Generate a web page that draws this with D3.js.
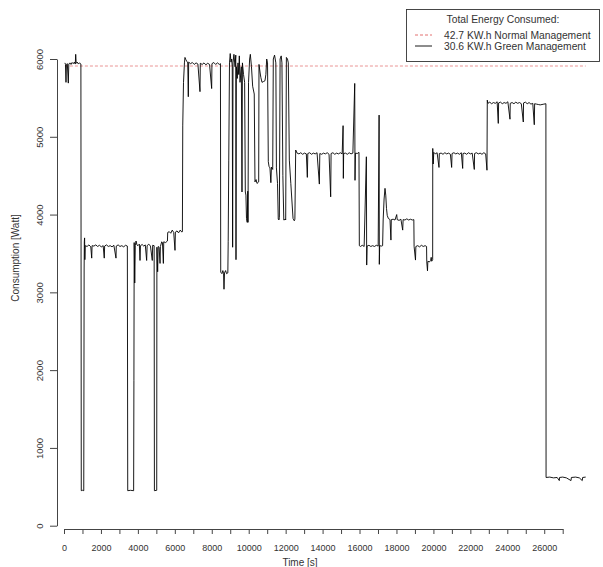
<!DOCTYPE html>
<html>
<head>
<meta charset="utf-8">
<script src="https://cdn.jsdelivr.net/npm/d3@7"></script>
<style>
  body { margin: 0; background: #fff; }
  svg { display: block; font-family: "Liberation Sans", Arial, sans-serif; }
</style>
</head>
<body>
<div id="chart"></div>
<script>
// Green management consumption, [time (s), watt]
var greenSeries = [
  [50,5950],[80,5930],[108,5700],[130,5930],[180,5940],[233,5690],[260,5935],[320,5950],[380,5930],[440,5955],
  [500,5940],[560,5960],[610,5935],[633,6060],[660,5945],[720,5960],[780,5935],[840,5950],[915,5935],
  [935,450],[1000,455],[1070,450],[1090,3300],[1100,3650],[1115,3700],[1130,3420],[1150,3600],
  [1250,3590],[1350,3610],[1450,3585],[1500,3440],[1520,3600],[1620,3595],[1720,3610],[1820,3590],[1920,3605],
  [2020,3585],[2120,3600],[2180,3440],[2200,3595],[2300,3610],[2400,3590],[2500,3600],[2600,3585],[2700,3605],
  [2815,3440],[2830,3595],[2930,3610],[3030,3590],[3130,3600],[3230,3585],[3330,3605],[3430,3595],
  [3450,450],[3600,455],[3770,450],[3785,1870],[3800,3640],[3830,3120],[3860,3600],[3900,3660],[3950,3610],
  [4000,3600],[4080,3620],[4115,3410],[4140,3600],[4230,3615],[4320,3595],[4400,3610],[4475,3410],[4500,3600],
  [4590,3620],[4680,3595],[4780,3410],[4800,3605],[4880,3600],
  [4895,450],[5020,455],[5030,3580],[5070,3265],[5100,3590],[5150,3580],[5200,3372],[5220,3590],[5290,3650],
  [5330,3640],[5380,3372],[5400,3650],[5500,3640],[5600,3660],[5615,3770],
  [5700,3780],[5780,3760],[5860,3800],[5940,3770],[6010,3540],[6030,3775],[6120,3790],[6200,3765],[6290,3800],[6380,3775],
  [6410,3780],[6430,5150],[6470,5700],[6520,5950],[6550,6020],[6600,5990],[6650,5970],
  [6700,5950],[6730,5515],[6750,5960],[6850,5940],[6950,5955],[7050,5930],[7150,5950],[7250,5935],[7363,5580],
  [7380,5945],[7480,5930],[7580,5950],[7680,5925],[7780,5945],[7880,5930],[7995,5620],[8010,5940],[8110,5955],
  [8210,5930],[8310,5950],[8410,5930],[8470,5940],
  [8485,3260],[8550,3240],[8600,3280],[8640,3240],[8662,3040],[8690,3250],[8750,3280],[8800,3240],[8870,3250],
  [8890,3650],[8920,4700],[8960,5950],[9000,6070],[9040,5960],[9080,6000],[9110,5900],[9130,3580],[9150,5950],
  [9200,6060],[9260,5900],[9300,6050],[9312,3420],[9330,5900],[9380,5750],[9420,5950],[9460,5800],[9492,6040],
  [9530,5700],[9600,5900],[9637,4290],[9660,5950],[9720,5800],[9780,5700],[9817,4290],[9850,4250],[9880,3950],
  [9920,3900],[9950,4300],[9962,3900],[9990,5700],[10050,6000],[10088,6060],[10150,5900],[10214,5650],[10300,5550],
  [10340,4420],[10400,4450],[10450,4400],[10540,4420],[10557,5930],[10620,5820],[10660,5760],[10720,5700],
  [10800,5710],[10880,5720],[10930,5800],[10974,6000],[11020,5950],[11061,4680],[11100,4620],[11150,4600],
  [11200,4410],[11230,4610],[11300,4580],[11332,6000],[11400,6050],[11470,5950],[11500,4600],[11560,4400],
  [11600,3940],[11640,3930],[11660,3960],[11700,6000],[11760,6040],[11800,5950],[11850,4500],[11900,3930],
  [11990,3940],[12003,3930],[12040,6020],[12100,6000],[12144,5950],[12200,4700],[12280,4400],[12400,3950],
  [12468,3920],[12500,3940],[12544,4830],
  [12620,4790],[12720,4780],[12820,4795],[12920,4775],[13020,4790],[13120,4780],[13174,4478],[13200,4785],
  [13300,4795],[13400,4775],[13500,4790],[13600,4780],[13700,4795],[13825,4392],[13850,4785],[13950,4775],
  [14050,4790],[14150,4780],[14250,4795],[14350,4775],[14438,4228],[14460,4785],[14560,4795],[14660,4775],
  [14760,4790],[14860,4780],[14960,4795],[15060,4780],[15110,5143],[15124,4465],[15140,4785],[15240,4790],
  [15340,4775],[15440,4795],[15540,4780],[15640,4790],[15740,5686],[15755,4440],[15780,4790],[15880,4785],[15970,4800],
  [15990,3600],[16050,3590],[16150,3605],[16250,3590],[16370,4743],[16388,3351],[16410,3595],[16510,3605],
  [16610,3590],[16710,3600],[16810,3590],[16910,3605],[17010,3595],[17060,5279],[17072,3360],[17090,3600],
  [17190,3595],[17250,3600],
  [17280,3930],[17330,4200],[17380,4337],[17420,4250],[17460,4080],[17500,3990],[17560,3950],[17620,3940],
  [17650,3935],[17700,3672],[17720,3935],
  [17820,3940],[17920,3930],[18013,4000],[18040,3935],[18140,3925],[18240,3940],[18337,3800],[18360,3935],
  [18460,3930],[18560,3945],[18660,3930],[18760,3940],[18860,3930],[18940,3935],
  [18955,3590],[19030,3415],[19050,3590],[19150,3600],[19250,3585],[19350,3605],[19450,3590],[19550,3600],[19630,3590],
  [19640,3393],[19680,3277],[19700,3400],[19780,3390],[19850,3410],[19880,3450],[19907,3400],[19960,3420],
  [19965,4850],[19990,4650],[20020,4800],
  [20100,4780],[20200,4795],[20302,4606],[20320,4785],[20420,4790],[20520,4775],[20620,4795],[20720,4780],
  [20820,4790],[20920,4775],[20988,4606],[21010,4785],[21110,4795],[21210,4780],[21310,4790],[21410,4775],
  [21510,4795],[21585,4593],[21600,4785],[21700,4790],[21800,4775],[21900,4795],[22000,4780],[22100,4790],
  [22214,4580],[22230,4785],[22330,4795],[22430,4780],[22530,4790],[22630,4775],[22730,4795],[22830,4780],[22900,4570],
  [22917,5471],[22950,5430],
  [23050,5445],[23150,5425],[23250,5440],[23350,5430],[23450,5450],[23513,5172],[23530,5435],[23630,5445],
  [23730,5425],[23830,5440],[23930,5430],[24030,5450],[24146,5226],[24160,5430],[24260,5440],[24360,5425],
  [24460,5445],[24560,5430],[24660,5440],[24760,5425],[24867,5190],[24880,5435],[24980,5445],[25080,5425],
  [25180,5440],[25280,5420],[25380,5430],[25462,5155],[25480,5425],[25580,5420],[25680,5415],[25780,5410],
  [25880,5415],[25980,5420],[26090,5425],
  [26100,620],[26300,625],[26500,615],[26700,620],[26816,580],[26830,620],[27000,625],[27200,615],[27450,580],
  [27470,620],[27700,625],[27900,615],[28060,580],[28080,620],[28245,625]
];

// Normal management: constant level over the same time span
var normalLevel = 5910;
var normalSpan = [50, 28245];

var xTicks = [0,1000,2000,3000,4000,5000,6000,7000,8000,9000,10000,11000,12000,13000,
              14000,15000,16000,17000,18000,19000,20000,21000,22000,23000,24000,25000,26000,27000];
var xTickLabels = [0,2000,4000,6000,8000,10000,12000,14000,16000,18000,20000,22000,24000,26000];
var yTicks = [0,1000,2000,3000,4000,5000,6000];

var legendTitle = "Total Energy Consumed:";
var legendLabels = ["42.7 KW.h Normal Management", "30.6 KW.h Green Management"];

var w = 603, h = 567;

var svg = d3.select("#chart").append("svg")
    .attr("width", w)
    .attr("height", h);

var x = d3.scaleLinear().domain([0, 27000]).range([64, 562.7]);
var y = d3.scaleLinear().domain([0, 6000]).range([525.7, 59]);

// axes
var xAxis = svg.append("g")
    .attr("transform", "translate(0,529)")
    .call(d3.axisBottom(x)
        .tickValues(xTicks)
        .tickSize(5)
        .tickSizeOuter(0)
        .tickPadding(11)
        .tickFormat(function(d) { return xTickLabels.indexOf(d) >= 0 ? d : ""; }));
xAxis.selectAll("path, line").attr("stroke", "#444");
xAxis.selectAll("text").attr("font-size", "9px").attr("fill", "#333")
    .attr("font-family", "Liberation Sans, Arial, sans-serif");

var yAxis = svg.append("g")
    .attr("transform", "translate(57,0)")
    .call(d3.axisLeft(y)
        .tickValues(yTicks)
        .tickSize(7)
        .tickSizeOuter(0)
        .tickFormat(d3.format("d")));
yAxis.selectAll("path, line").attr("stroke", "#444");
yAxis.selectAll("text")
    .attr("x", 0).attr("y", 0).attr("dy", "0.35em")
    .attr("text-anchor", "middle")
    .attr("transform", "translate(-17,0) rotate(-90)")
    .attr("font-size", "9.5px").attr("fill", "#333")
    .attr("font-family", "Liberation Sans, Arial, sans-serif");

// axis titles
svg.append("text")
    .attr("x", 300).attr("y", 565.5)
    .attr("text-anchor", "middle")
    .attr("font-size", "10px").attr("fill", "#333")
    .text("Time [s]");

svg.append("text")
    .attr("transform", "translate(15,258) rotate(-90)")
    .attr("dy", "0.35em")
    .attr("text-anchor", "middle")
    .attr("font-size", "10px").attr("fill", "#333")
    .text("Consumption [Watt]");

// normal management reference line
svg.append("line")
    .attr("x1", x(normalSpan[0])).attr("x2", x(normalSpan[1]))
    .attr("y1", y(normalLevel)).attr("y2", y(normalLevel))
    .attr("stroke", "#e06060")
    .attr("stroke-opacity", 0.75)
    .attr("stroke-width", 0.9)
    .attr("stroke-dasharray", "3,2");

// green management series
var line = d3.line()
    .x(function(d) { return x(d[0]); })
    .y(function(d) { return y(d[1]); });

svg.append("path")
    .datum(greenSeries)
    .attr("d", line)
    .attr("fill", "none")
    .attr("stroke", "#000")
    .attr("stroke-width", 0.9);

// legend
var lg = svg.append("g");
lg.append("rect")
    .attr("x", 406.5).attr("y", 9.5)
    .attr("width", 193).attr("height", 52)
    .attr("fill", "#fff")
    .attr("stroke", "#333")
    .attr("stroke-width", 0.9);
lg.append("text")
    .attr("x", 503).attr("y", 22.5)
    .attr("text-anchor", "middle")
    .attr("font-size", "10.3px").attr("fill", "#333")
    .text(legendTitle);
lg.append("line")
    .attr("x1", 415).attr("x2", 432).attr("y1", 35).attr("y2", 35)
    .attr("stroke", "#e06060").attr("stroke-width", 0.9)
    .attr("stroke-dasharray", "3,2");
lg.append("line")
    .attr("x1", 415).attr("x2", 432).attr("y1", 46).attr("y2", 46)
    .attr("stroke", "#000").attr("stroke-width", 0.9);
lg.selectAll("text.item")
    .data(legendLabels)
    .enter()
    .append("text")
    .attr("class", "item")
    .attr("x", 444)
    .attr("y", function(d, i) { return 35 + i * 11; })
    .attr("dy", "0.35em")
    .attr("font-size", "10.3px").attr("fill", "#333")
    .text(function(d) { return d; });
</script>
</body>
</html>
